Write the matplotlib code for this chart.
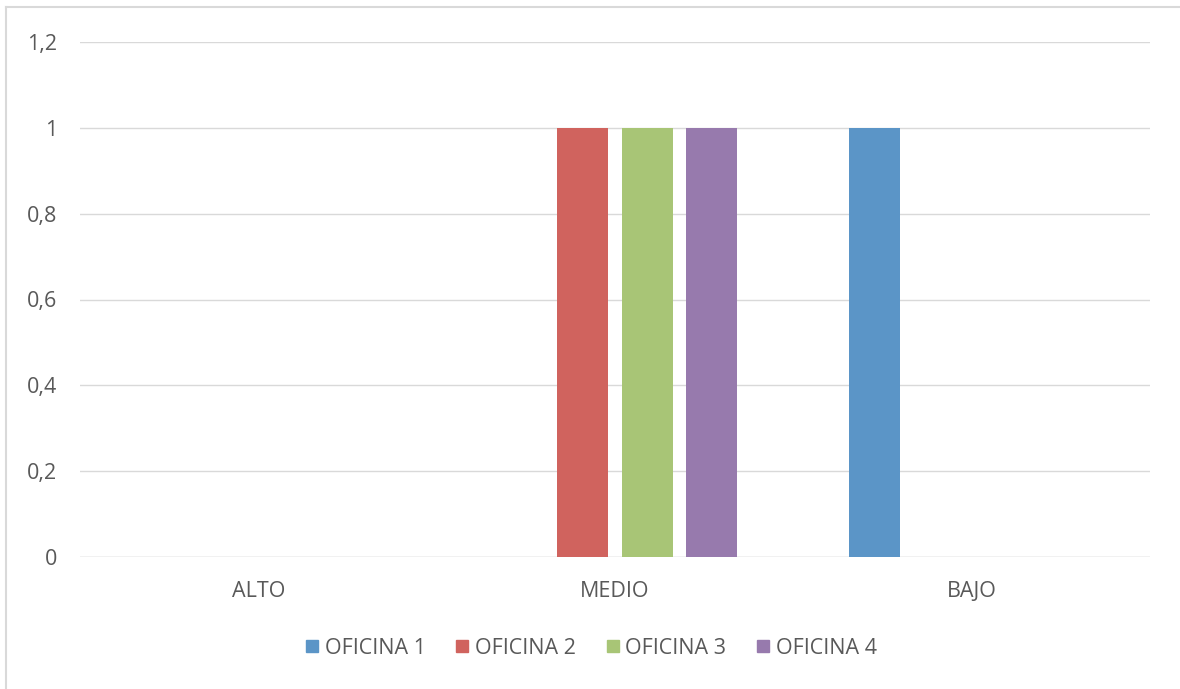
import numpy as np
import matplotlib.pyplot as plt
from matplotlib.lines import Line2D

categorias = ["ALTO", "MEDIO", "BAJO"]
series = ["OFICINA 1", "OFICINA 2", "OFICINA 3", "OFICINA 4"]
oficina1 = [0, 0, 1]
oficina2 = [0, 1, 0]
oficina3 = [0, 1, 0]
oficina4 = [0, 1, 0]
colores = ["#5B95C7", "#D0635E", "#A8C576", "#977AAD"]

plt.rcParams['font.family'] = ['Open Sans', 'DejaVu Sans']

fig = plt.figure(figsize=(11.8, 6.89), dpi=100)
ax = fig.add_axes([80 / 1180, 1 - 557 / 689, 1070 / 1180, 515 / 689])

x = np.arange(len(categorias))
ancho = 0.143
paso = 0.181
for i, (vals, nombre) in enumerate(zip([oficina1, oficina2, oficina3, oficina4], series)):
    ax.bar(x + (i - 1.5) * paso, vals, ancho, color=colores[i], label=nombre, zorder=3)

ax.set_xlim(-0.5, 2.5)
ax.set_ylim(0, 1.2)
ax.set_yticks(np.arange(0, 1.21, 0.2))
ax.set_yticklabels(["0", "0,2", "0,4", "0,6", "0,8", "1", "1,2"])
ax.set_xticks(x)
ax.set_xticklabels(categorias)
ax.grid(axis='y', color='#D9D9D9', linewidth=1, zorder=0)
for s in ax.spines.values():
    s.set_visible(False)
ax.axhline(0, color='#D9D9D9', linewidth=1, zorder=1)
ax.tick_params(length=0, labelsize=15.5, colors='#595959')
ax.tick_params(axis='x', pad=17)
ax.tick_params(axis='y', pad=16.5)

handles = [Line2D([], [], marker='s', linestyle='', markersize=9, color=c) for c in colores]
fig.legend(handles, series, loc='center', bbox_to_anchor=(0.5, 1 - 648 / 689), ncol=4,
           frameon=False, fontsize=15.5, labelcolor='#595959', handletextpad=0.2,
           columnspacing=1.3, handlelength=0.8)

fig.add_artist(Line2D([6 / 1180, 6 / 1180], [0, 1 - 7 / 689], color='#D9D9D9', linewidth=1.5))
fig.add_artist(Line2D([6 / 1180, 1], [1 - 7 / 689, 1 - 7 / 689], color='#D9D9D9', linewidth=1.5))

fig.savefig("out.png", dpi=100)
